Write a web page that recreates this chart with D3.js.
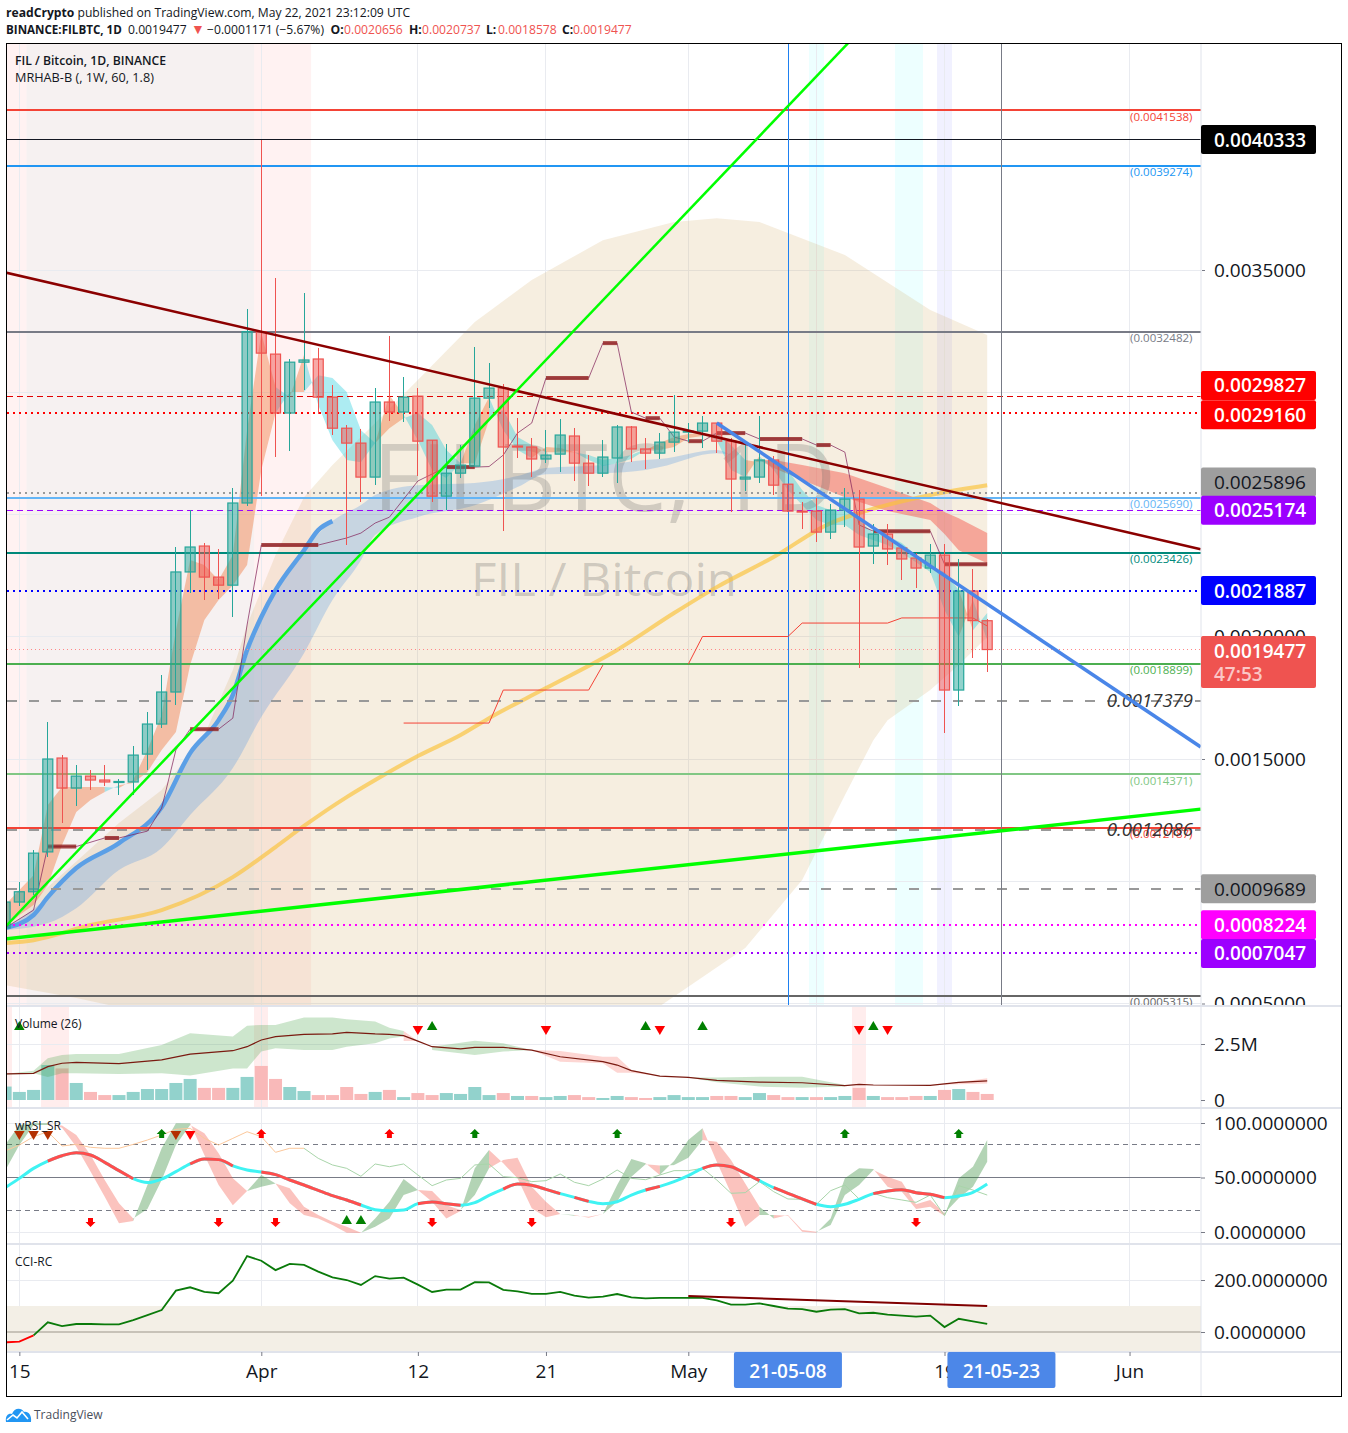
<!DOCTYPE html>
<html><head><meta charset="utf-8">
<script src="https://d3js.org/d3.v7.min.js"></script>
<style>
html,body{margin:0;padding:0;background:#fff;}
svg{display:block;}
text{font-family:"Open Sans","Noto Sans",sans-serif;}
.ax text{font-size:19px;fill:#131722;}
.ax .domain{display:none;}
.ax line{stroke:#787b86;}
</style></head><body><div id="c"></div>
<script>
// All prices are in units of 0.0001 BTC
const firstDay = new Date(Date.UTC(2021,2,14));
const priceOpen=[8.09,9.15,9.57,11.20,15.04,13.81,14.30,14.14,14.06,14.06,15.20,16.43,17.74,22.65,23.71,22.44,22.11,25.47,32.48,31.56,29.15,31.23,31.36,29.80,28.53,27.92,26.53,29.60,29.19,29.84,28.04,25.75,26.69,26.98,29.76,30.17,27.80,27.76,27.27,27.47,28.21,27.10,26.69,27.31,28.58,27.68,27.51,27.96,28.37,28.41,28.74,28.00,26.45,26.53,27.23,26.24,25.14,25.14,24.28,25.18,25.63,23.71,24.20,23.63,23.22,22.81,23.34,17.82,21.87,20.656];
const priceHigh=[9.15,9.97,11.28,16.51,15.16,14.75,14.55,14.75,14.18,15.53,16.92,18.43,23.67,25.18,23.83,23.59,26.08,33.40,40.33,34.67,31.36,34.06,31.81,30.29,28.66,28.49,30.17,32.30,30.62,30.17,28.04,27.88,27.84,31.85,31.19,30.33,28.94,28.13,28.45,28.90,28.53,27.43,28.04,28.66,28.62,28.13,28.33,29.88,28.74,29.03,28.74,28.13,28.00,29.03,27.39,26.24,25.51,25.67,25.43,26.08,26.00,24.61,24.61,23.63,23.42,23.79,23.79,23.18,22.77,20.737];
const priceLow=[8.09,8.99,9.44,10.99,12.38,13.07,13.73,13.89,13.52,13.52,14.55,16.27,17.21,21.79,21.50,21.54,20.81,25.34,25.75,27.35,27.59,30.09,29.11,28.25,23.75,25.51,26.20,28.82,28.78,26.57,25.51,25.18,26.49,26.98,29.35,24.32,27.31,26.53,27.10,26.74,26.37,26.16,26.53,26.29,27.14,26.86,27.27,27.55,27.96,27.72,27.51,25.10,25.96,26.29,25.80,25.10,24.40,23.87,24.00,24.49,18.72,22.97,22.93,22.32,21.99,22.60,16.06,17.17,19.13,18.578];
const priceClose=[9.15,9.57,11.15,15.00,13.81,14.30,14.14,14.06,14.08,15.16,16.43,17.74,22.65,23.67,22.44,22.11,25.47,32.48,31.60,29.15,31.23,31.32,29.80,28.53,27.92,26.53,29.60,29.19,29.80,28.00,25.75,26.69,27.02,29.76,30.17,27.76,27.76,27.27,27.43,28.25,27.10,26.69,27.35,28.58,27.68,27.51,27.96,28.37,28.41,28.74,28.00,26.45,26.53,27.23,26.20,25.14,25.10,24.28,25.18,25.63,23.67,24.20,23.59,23.18,22.81,23.34,17.82,21.87,20.66,19.477];
// MRHAB ribbon (fast over slow = orange, otherwise cyan)
const ribbonFast=[9.03,9.64,10.25,13.12,13.85,13.85,13.85,13.85,13.81,14.14,15.37,16.80,20.27,23.14,22.93,22.32,23.34,28.45,32.42,30.21,29.80,31.52,29.48,28.04,27.23,27.14,27.92,29.88,29.07,28.04,26.82,26.49,27.10,28.66,29.80,28.45,27.64,27.31,27.76,27.72,27.55,27.23,26.98,27.10,27.27,27.64,27.92,28.17,28.29,28.33,28.04,26.82,26.53,27.39,26.82,26.00,25.39,24.77,24.57,24.57,24.16,23.95,23.75,23.42,23.05,22.65,21.09,19.99,21.50,19.86];
const ribbonSlow=[8.09,8.62,9.03,9.84,11.48,12.83,13.32,13.65,13.93,14.02,14.47,15.37,16.10,18.84,20.68,21.50,22.11,22.93,26.82,29.15,30.01,30.01,30.70,30.58,30.01,28.45,27.92,28.53,28.94,29.15,28.66,27.64,27.10,27.10,28.86,29.27,28.17,27.84,27.55,27.55,27.55,27.43,27.23,27.31,27.43,27.68,27.64,27.76,28.13,28.21,28.33,27.84,27.23,27.14,27.23,26.82,26.00,25.39,25.18,25.18,24.77,24.24,24.12,23.83,23.34,22.81,22.65,21.91,20.27,20.97];
const redBandDays=[53,54,56,59,62,65,66,67,69];
const redBandTop=[27.23,27.23,27.02,26.69,26.08,25.47,25.10,24.85,24.24];
const redBandBot=[27.23,26.90,26.41,25.71,25.14,24.77,24.20,23.54,23.01];
const beigeUpDays=[0,2,8,11,14,16,17,19,21,23,26,29,33,37,42,47,50,53,59,65,69];
const beigeUp=[8.09,9.23,12.38,13.73,15.98,18.64,20.48,23.34,25.71,27.02,28.74,30.50,32.87,34.59,36.22,36.96,37.12,36.96,35.61,33.36,32.34];
const beigeLoDays=[0,5,8,14,25,35,46,52,56,59,61,62,65,67,69];
const beigeLo=[5.75,5.22,4.85,3.51,3.51,3.51,4.89,7.27,10.05,13.52,15.77,16.59,17.82,18.84,19.99];
const yellowDays=[0,2,6,11,16,19,21,24,26,29,32,34,38,43,47,50,54,58,60,65,69];
const yellowMA=[7.47,7.59,8.21,8.82,10.17,11.40,12.26,13.44,14.14,15.12,15.98,16.67,17.90,19.46,20.97,22.03,23.26,24.65,25.06,25.80,26.20];
const blueMADays=[0,2,3,5,8,11,13,15,16,17,18,19,21,22,23];
const blueMA=[8.09,8.62,9.35,10.54,11.56,13.03,15.24,16.59,17.62,19.46,20.81,21.91,23.54,24.36,24.73];
const blueBandDays=[0,3,5,8,11,13,16,18,21,23,25,26,29,33,36,38,42,45,46,50,51];
const blueBandUp=[8.09,9.35,10.54,11.56,13.03,15.24,17.62,20.81,23.54,24.73,25.39,25.80,26.20,26.29,26.57,26.90,27.02,27.23,27.27,27.64,27.43];
const blueBandLo=[8.00,8.29,8.90,10.46,11.36,12.71,14.63,16.72,19.33,21.50,23.13,24.16,24.90,25.38,26.12,26.65,26.69,26.82,26.94,27.51,27.43];
const mrDays=[0,2,3,5,7,8,10,11,12,13,15,16,17,18,22,24,25,26,27,29,31,33,34,35,36,37,38,41,42,43,44,45,46,47,48,49,50,52,53,56,57,58,59,60,61,65,66,69];
const mrValues=[8.09,8.82,11.42,11.42,11.77,11.77,12.05,12.99,15.37,16.22,16.22,16.67,20.48,23.75,23.75,24.04,24.24,24.65,24.89,26.37,26.94,26.94,26.96,27.43,28.33,28.74,30.58,30.58,32.01,32.01,29.19,28.94,28.94,28.17,28.00,28.00,28.33,28.33,28.09,28.09,27.84,27.84,27.55,24.57,24.32,24.32,22.97,22.97];
const redStepDays=[28,34,35,41,42,47,48,49,55,56,62,63,68,69];
const redStepValues=[16.47,16.47,17.82,17.82,18.84,null,18.88,20.01,20.01,20.56,20.56,20.77,20.77,20.44];
// levels
const levelValues=[41.538,40.333,39.274,32.482,29.827,29.160,25.896,25.690,25.174,23.426,21.887,19.477,18.899,17.379,14.371,12.086,12.187,9.689,8.224,7.047,5.315];
const levelNotes=["(0.0041538)",null,"(0.0039274)","(0.0032482)",null,null,null,"(0.0025690)",null,"(0.0023426)",null,null,"(0.0018899)",null,"(0.0014371)",null,"(0.0012187)",null,null,null,"(0.0005315)"];
const levelStyle=[["#f44336",2,""],["#131722",1,""],["#2196f3",2,""],["#787b86",2,""],["#e00000",1,"6,4"],["#ff0000",2,"2,4"],["#9a9a9a",2,"2,4"],["#64b5f6",2,""],["#9c00ff",1,"6,4"],["#00897b",2,""],["#0000ff",2,"2,4"],["#f88",1,"1,3"],["#4caf50",2,""],["#999",2,"10,12"],["#81c784",2,""],["#999",2,"10,12"],["#f44336",2,""],["#999",2,"10,12"],["#ff00ff",2,"2,4"],["#9c00ff",2,"2,4"],["#666",2,""]];
const tagPrices=["0.0040333","0.0029827","0.0029160","0.0025896","0.0025174","0.0021887","0.0009689","0.0008224","0.0007047"];
const tagValues=[40.333,29.827,29.160,25.896,25.174,21.887,9.689,8.224,7.047];
const tagShift=[0,-11,2,-10.5,0,0,0,0,0];
const tagFill=["#000","#f00","#f00","#9e9e9e","#9c00ff","#0000ff","#9e9e9e","#ff00ff","#9c00ff"];
const tagInk=["#fff","#fff","#fff","#131722","#fff","#fff","#131722","#fff","#fff"];
const priceTicks=[35,30,25,20,15,10,5];
const xTickDates=[[2021,2,15],[2021,3,1],[2021,3,12],[2021,3,21],[2021,4,1],[2021,4,10],[2021,4,19],[2021,5,1]].map(d=>new Date(Date.UTC(...d)));
const xTickLabels=["15","Apr","12","21","May","10","19","Jun"];
// trend lines: [day, price, day, price]
const trendDark=[0,34.90,84,23.58];
const trendGreenUp=[0,8.13,60,44.75];
const trendGreenLow=[0,7.64,84,12.95];
const trendBlue=[50,28.74,84,15.49];
// background day shading
const cyanBgDays=[57,63,64];
const violetBgDays=[66];
// volume in millions
const volume=[.60,.36,.45,1.56,1.41,.76,.36,.22,.22,.36,.49,.49,.76,.94,.54,.54,.54,1.03,1.52,.94,.58,.40,.22,.22,.58,.27,.36,.45,.13,.31,.22,.31,.27,.58,.22,.31,.18,.18,.13,.18,.22,.13,.09,.18,.13,.09,.13,.22,.13,.13,.18,.18,.13,.31,.22,.13,.13,.13,.13,.18,.54,.18,.13,.13,.18,.18,.45,.49,.36,.27];
const volumeUp=[1,1,1,1,0,1,0,0,1,1,1,1,1,1,0,0,1,1,0,0,1,1,0,0,0,0,1,0,1,0,0,1,1,1,1,0,1,0,1,1,0,0,1,1,0,0,1,1,1,1,0,0,1,1,0,0,1,0,1,1,0,1,0,0,0,1,0,1,0,0];
const volMADays=[0,2,3,4,5,8,11,13,16,17,18,19,21,23,24,26,27,28,29,30,32,33,35,37,39,42,43,44,46,48,50,53,56,59,60,61,65,67,69];
const volMA=[1.16,1.19,1.49,1.64,1.68,1.62,1.79,2.05,2.20,2.38,2.68,2.83,2.93,2.95,3.02,2.95,2.93,2.87,2.63,2.38,2.28,2.35,2.35,2.23,1.93,1.71,1.56,1.31,1.07,1.01,.88,.80,.77,.64,.70,.67,.65,.79,.85];
const volGreenDays=[0,2,3,4,5,8,11,13,16,17,18,19,21,23,24,26,27,28,null,30,33,35,37,null,48,50,53,56,59];
const volGreenUp=[1.16,1.31,1.86,2.01,2.05,2.05,2.46,2.98,2.83,3.32,3.35,3.35,3.68,3.68,3.60,3.50,3.23,3.08,null,2.38,2.65,2.53,2.23,null,1.01,1.00,1.04,1.04,.67];
const volGreenLo=[1.12,1.19,1.03,1.19,1.19,1.16,1.19,1.09,1.41,1.41,2.16,2.31,2.23,2.23,2.38,2.53,2.75,2.83,null,2.23,2.01,2.16,2.23,null,1.01,.79,.60,.55,.60];
const volRedDays=[28,29,30,null,37,39,42,43,44,46,null,65,67,69];
const volRedUp=[3.08,2.63,2.38,null,2.23,2.19,1.93,1.93,1.34,1.07,null,.67,.79,.97];
const volRedLo=[2.63,2.63,2.38,null,2.23,1.71,1.64,1.22,1.22,1.07,null,.67,.70,.74];
const volBgDays=[0,3,4,18,60];
const volTriDown=[29,38,46,60,62];
const volTriUp=[1,30,45,49,61];
// wRSI panel
const rsiLine=[40.7,49.2,58.4,65.1,70.0,72.8,70.6,63.9,56.3,48.9,45.3,48.6,55.4,62.4,67.0,66.4,60.6,56.9,55.0,52.6,47.7,43.1,38.2,33.3,29.4,24.8,20.5,19.6,20.2,26.0,27.5,26.0,24.5,26.9,33.6,39.4,44.0,42.8,39.1,35.2,31.8,28.1,26.0,27.8,33.9,38.5,41.9,46.2,51.7,58.4,61.5,59.9,53.8,47.1,40.7,35.5,30.3,25.4,23.2,25.4,30.0,35.2,37.6,38.8,36.1,34.6,31.5,33.0,36.4,44.0];
const rsiRedRuns=[[3,9],[13,16],[18,25],[29,32],[35,39],[40,41],[45,46],[49,53],[54,57],[61,66]];
const rsiA=[79.8,98.2,99.7,99.7,95.7,78.3,55.4,32.4,8,10.1,43.1,76.8,99.7,99.7,70.6,43.1,24.5,37.6,52.3,44.6,26.3,15.6,12.5,6.4,-.6,-.9,12.5,27.8,48.6,38.5,27.8,12.5,19.3,58.4,75.2,63,49.2,21.7,13.5,16.5,15.6,13.1,16.5,43.1,67,63,52.3,65.1,84.4,95.1,64.5,35.5,4.9,15.6,15.6,15,.3,-.6,12.5,49.2,58.4,57.8,41.6,37,21.1,23.2,15,49.2,59.9,84.4];
const rsiB=[56.3,79.8,98.2,98.2,97.6,89,70.6,47.7,26.3,12.5,21.1,47.7,79.8,98.2,90.5,72.2,49.2,37.6,41.6,44.6,40.1,23.2,15.6,9.5,4.9,-.6,4.9,12.5,33.9,38.5,37.6,24.5,20.2,33.9,58.4,66.1,68.2,41.6,27.8,16.5,15,14.1,16.5,27.8,50.8,62.1,60.9,61.5,68.2,84.4,82.9,66.1,44.6,23.2,12.5,15.6,1.8,.3,6.4,33.9,43.1,56.9,50.8,46.2,25.4,29.4,17.1,30.9,41.6,64.5];
const rsiThin=[74.3,79.8,87.5,92,78.9,80.4,77.7,76.8,76.8,80.4,84.4,89,94.2,95.1,85.9,79.8,85.9,92,87.5,73.1,76.8,76.8,67.6,61.5,58.4,51.1,62.4,59.9,62.4,52.3,42.5,47.7,49.2,61.5,62.4,50.8,49.8,46.2,47.1,53.2,45.6,42.5,48.6,56.9,49.2,48,52.3,56.3,56.3,58.4,47.7,35.5,36.1,46.2,37,30.3,30,25.4,37.9,43.1,30.3,35.5,31.5,29.4,27.2,33.9,15,42.5,38.5,33.9];
const rsiArrowUpGreen=[11,33,43,59,67];
const rsiArrowUpRed=[18,27];
const rsiArrowDownRed=[6,15,19,30,37,51,64];
const rsiTriDown=[1,2,3,12,13];
const rsiTriUp=[24,25];
// CCI panel
const cciLine=[-39.7,-37,-12.8,37.2,23,30.8,30.8,29.5,29.5,46,65,84.6,159,172,154,149,197,292,274,238,262,258,232,210,200,181,215,205,209,182,154,163,163,192,191,162,156,147,147,154,140,132,136,146,133,129,131,131,131,131,122,105,105,110,100,90,88,78,86,88,72,74,67,63,59,63,19,51,41,31];
const cciTrend=[48,138,69,100];

const W=1348,H=1433;
const svg=d3.select("#c").append("svg").attr("width",W).attr("height",H);
const x=d3.scaleUtc().domain([new Date(Date.UTC(2021,3,1)),new Date(Date.UTC(2021,4,1))]).range([261.3,688.3]);
const dayDate=i=>d3.utcDay.offset(firstDay,Math.round(i));
const dx=i=>x(dayDate(i));
const yP=d3.scaleLinear().domain([5,35]).range([1003.5,270]);
const yV=d3.scaleLinear().domain([0,2.5]).range([1100,1044]);
const yR=d3.scaleLinear().domain([0,100]).range([1232,1123]);
const yC=d3.scaleLinear().domain([0,200]).range([1332,1280]);
const L=7,R=1201;
const defs=svg.append("defs");
function clip(id,y0,y1,x0=L,x1=R){defs.append("clipPath").attr("id",id).append("rect").attr("x",x0).attr("y",y0).attr("width",x1-x0).attr("height",y1-y0);}
clip("cM",44,1005);clip("cV",1007,1107);clip("cR",1109,1243);clip("cC",1245,1351);clip("cA",44,1005,1202,1342);

// backgrounds and grid
const gM=svg.append("g").attr("clip-path","url(#cM)");
const gV=svg.append("g").attr("clip-path","url(#cV)");
const gR=svg.append("g").attr("clip-path","url(#cR)");
const gC=svg.append("g").attr("clip-path","url(#cC)");
const dayW=14.233;
function dayBands(g,days,fill,y0,y1){g.append("g").attr("shape-rendering","crispEdges").selectAll("rect").data(days).join("rect").attr("x",d=>dx(d)-dayW/2).attr("width",dayW).attr("y",y0).attr("height",y1-y0).attr("fill",fill);}
gM.append("rect").attr("x",L).attr("y",44).attr("width",dx(21)+dayW/2-L).attr("height",961).attr("fill","rgba(255,0,0,.05)");
gM.append("rect").attr("x",dx(2)-dayW/2).attr("y",44).attr("width",dx(17)-dx(2)+dayW).attr("height",961).attr("fill","rgba(0,220,220,.035)");
dayBands(gM,cyanBgDays,"rgba(0,255,255,.07)",44,1005);
dayBands(gM,violetBgDays,"rgba(60,60,255,.07)",44,1005);
dayBands(gV,volBgDays,"rgba(255,0,0,.07)",1007,1107);
const gridDates=xTickDates;
[[gM,44,1005],[gV,1007,1107],[gR,1109,1243],[gC,1245,1351]].forEach(([g,a,b])=>{
  g.append("g").attr("shape-rendering","crispEdges").selectAll("line").data(gridDates).join("line").attr("x1",d=>x(d)).attr("x2",d=>x(d)).attr("y1",a).attr("y2",b).attr("stroke","#e9ebf0").attr("stroke-width",1);
});
gM.append("g").attr("shape-rendering","crispEdges").selectAll("line").data(priceTicks).join("line").attr("x1",L).attr("x2",R).attr("y1",d=>yP(d)).attr("y2",d=>yP(d)).attr("stroke","#e9ebf0");
[[gV,yV,[2.5]],[gR,yR,[100,0]],[gC,yC,[200]]].forEach(([g,s,t])=>g.append("g").attr("shape-rendering","crispEdges").selectAll("line").data(t).join("line").attr("x1",L).attr("x2",R).attr("y1",d=>s(d)).attr("y2",d=>s(d)).attr("stroke","#e9ebf0"));

// beige envelope
const pairs=(ds,vs)=>ds.map((d,i)=>[d,vs[i]]);
const upPts=pairs(beigeUpDays,beigeUp),loPts=pairs(beigeLoDays,beigeLo);
const lineP=d3.line().x(d=>dx(d[0])).y(d=>yP(d[1]));
gM.append("path").attr("d",lineP(upPts.concat(loPts.slice().reverse()))+"Z").attr("fill","rgba(210,170,100,.2)");

function ribbon(g,days,a,b,yS,cUp,cDn){
  const segs=[];let cur=null;
  for(let k=0;k<days.length-1;k++){
    let s=a[k+1]-b[k+1]; if(s===0) s=a[k]-b[k];
    const up=s>=0;
    if(!cur||cur.up!==up){cur={up,pts:[k]};segs.push(cur);}
    cur.pts.push(k+1);
  }
  const ar=d3.area().x(k=>dx(days[k])).y0(k=>yS(a[k])).y1(k=>yS(b[k]));
  g.append("g").selectAll("path").data(segs).join("path").attr("d",s=>ar(s.pts)).attr("fill",s=>s.up?cUp:cDn);
}
// blue ribbon
gM.append("path").datum(blueBandDays.map((d,i)=>i)).attr("d",d3.area().curve(d3.curveMonotoneX).x(i=>dx(blueBandDays[i])).y0(i=>yP(blueBandLo[i])).y1(i=>yP(blueBandUp[i]))).attr("fill","rgba(50,135,230,.24)");
// red ribbon
gM.append("path").datum(redBandDays.map((d,i)=>i)).attr("d",d3.area().x(i=>dx(redBandDays[i])).y0(i=>yP(redBandBot[i])).y1(i=>yP(redBandTop[i]))).attr("fill","rgba(244,67,54,.42)");
const allDays=d3.range(priceOpen.length);
ribbon(gM,allDays,ribbonFast,ribbonSlow,yP,"rgba(240,105,40,.38)","rgba(0,195,215,.32)");

// watermark
gM.append("text").attr("x",373).attr("y",511).attr("font-size",93).attr("textLength",463).attr("lengthAdjust","spacingAndGlyphs").attr("fill","rgba(90,90,90,.24)").text("FILBTC, 1D");
gM.append("text").attr("x",471).attr("y",596).attr("font-size",45).attr("textLength",266).attr("lengthAdjust","spacingAndGlyphs").attr("fill","rgba(90,90,90,.26)").text("FIL / Bitcoin");

// yellow and blue MAs
const lineSmooth=d3.line().curve(d3.curveMonotoneX).x(d=>dx(d[0])).y(d=>yP(d[1]));
gM.append("path").attr("d",lineSmooth(pairs(yellowDays,yellowMA))).attr("fill","none").attr("stroke","rgba(250,195,60,.68)").attr("stroke-width",4);
gM.append("path").attr("d",lineSmooth(pairs(blueMADays,blueMA))).attr("fill","none").attr("stroke","#5b9fe6").attr("stroke-width",4.5).attr("stroke-linejoin","round");

// horizontal levels
gM.append("g").attr("shape-rendering","crispEdges").selectAll("line").data(levelValues).join("line").attr("x1",L).attr("x2",R).attr("y1",d=>yP(d)).attr("y2",d=>yP(d))
 .attr("stroke",(d,i)=>levelStyle[i][0]).attr("stroke-width",(d,i)=>levelStyle[i][1]).attr("stroke-dasharray",(d,i)=>levelStyle[i][2]);
gM.append("g").selectAll("text").data(levelValues.map((v,i)=>({v,i})).filter(d=>levelNotes[d.i])).join("text")
 .attr("x",1192.5).attr("y",d=>yP(d.v)+10.5).attr("text-anchor","end").attr("font-size",11.5).attr("fill",d=>levelStyle[d.i][0]).text(d=>levelNotes[d.i]);
gM.selectAll(null).data([[17.379,"0.0017379"],[12.086,"0.0012086"]]).join("text").attr("x",1193).attr("y",d=>yP(d[0])+6).attr("text-anchor","end").attr("font-size",18.5).attr("font-style","italic").attr("fill","#333").text(d=>d[1]);

// vertical markers
const markX=d=>Math.round(x(d))+.5;
const may8=new Date(Date.UTC(2021,4,8)),may23=new Date(Date.UTC(2021,4,23));
gM.append("line").attr("x1",markX(may8)).attr("x2",markX(may8)).attr("y1",44).attr("y2",1005).attr("stroke","#1e80f0").attr("stroke-width",1);
gM.append("line").attr("x1",markX(may23)).attr("x2",markX(may23)).attr("y1",44).attr("y2",1005).attr("stroke","#787b86").attr("stroke-width",1);

// step lines
const mrLine=d3.line().x(k=>dx(mrDays[k])).y(k=>yP(mrValues[k]));
gM.append("path").attr("d",mrLine(d3.range(mrDays.length))).attr("fill","none").attr("stroke","rgba(130,35,90,.72)").attr("stroke-width",1);
const thick=d3.range(mrDays.length-1).filter(k=>mrValues[k]===mrValues[k+1]);
gM.append("g").selectAll("line").data(thick).join("line").attr("x1",k=>dx(mrDays[k])).attr("x2",k=>dx(mrDays[k+1])).attr("y1",k=>yP(mrValues[k])).attr("y2",k=>yP(mrValues[k])).attr("stroke","rgba(145,30,30,.8)").attr("stroke-width",4);
gM.append("path").attr("d",d3.line().defined(k=>redStepValues[k]!==null).x(k=>dx(redStepDays[k])).y(k=>yP(redStepValues[k]))(d3.range(redStepDays.length))).attr("fill","none").attr("stroke","#f44336").attr("stroke-width",1);

// candles
const cg=gM.append("g").selectAll("g").data(allDays).join("g");
const cUp=i=>priceClose[i]>=priceOpen[i];
cg.append("line").attr("shape-rendering","crispEdges").attr("x1",dx).attr("x2",dx).attr("y1",i=>yP(priceHigh[i])).attr("y2",i=>yP(priceLow[i])).attr("stroke",i=>cUp(i)?"#26a69a":"#ef5350");
cg.append("rect").attr("x",i=>dx(i)-5).attr("width",10)
 .attr("y",i=>yP(Math.max(priceOpen[i],priceClose[i])))
 .attr("height",i=>Math.max(1,Math.abs(yP(priceOpen[i])-yP(priceClose[i]))))
 .attr("fill",i=>cUp(i)?"rgba(38,166,154,.5)":"rgba(239,83,80,.5)").attr("stroke",i=>cUp(i)?"#26a69a":"#ef5350").attr("stroke-width",1.2);

// trend lines
function trend(t,c,w){gM.append("line").attr("x1",dx(t[0])).attr("y1",yP(t[1])).attr("x2",dx(t[2])).attr("y2",yP(t[3])).attr("stroke",c).attr("stroke-width",w);}
trend(trendDark,"#8b0000",2.5);
trend(trendGreenUp,"#00ff00",2.5);
trend(trendGreenLow,"#00ff00",3.5);
trend(trendBlue,"#4a86e8",3.5);

// volume
gV.append("g").selectAll("rect").data(allDays).join("rect").attr("x",i=>dx(i)-6.5).attr("width",13).attr("y",i=>yV(volume[i])).attr("height",i=>yV(0)-yV(volume[i])).attr("fill",i=>volumeUp[i]?"#92d2cc":"#f9b9b9");
function bandNull(g,ds,u,l,col){
  const a=d3.area().defined(k=>ds[k]!==null).x(k=>dx(ds[k])).y0(k=>yV(l[k])).y1(k=>yV(u[k]));
  g.append("path").attr("d",a(d3.range(ds.length))).attr("fill",col);
}
bandNull(gV,volGreenDays,volGreenUp,volGreenLo,"rgba(76,165,76,.28)");
bandNull(gV,volRedDays,volRedUp,volRedLo,"rgba(244,67,54,.22)");
gV.append("path").attr("d",d3.line().x(k=>dx(volMADays[k])).y(k=>yV(volMA[k]))(d3.range(volMADays.length))).attr("fill","none").attr("stroke","#7a1a10").attr("stroke-width",1.2);
const triUp=d3.symbol().type(d3.symbolTriangle).size(48)();
function marks(g,days,yy,col,rot){g.append("g").selectAll("path").data(days).join("path").attr("d",triUp).attr("transform",d=>`translate(${dx(d)},${yy}) rotate(${rot})`).attr("fill",col);}
marks(gV,volTriDown,1029,"#f00",180);
marks(gV,volTriUp,1027,"#008000",0);

// wRSI
gR.append("g").attr("shape-rendering","crispEdges").selectAll("line").data([80,50,20]).join("line").attr("x1",L).attr("x2",R).attr("y1",d=>yR(d)).attr("y2",d=>yR(d)).attr("stroke","#787b86").attr("stroke-dasharray",d=>d===50?"":"5,4");
ribbon(gR,allDays,rsiA,rsiB,yR,"rgba(56,142,60,.38)","rgba(244,67,54,.32)");
const thinL=d3.line().x(k=>dx(k)).y(k=>yR(rsiThin[k]));
gR.append("path").attr("d",thinL(d3.range(0,22))).attr("fill","none").attr("stroke","#fcc89b");
gR.append("path").attr("d",thinL(d3.range(21,70))).attr("fill","none").attr("stroke","#a9d5aa");
const rsiL=d3.line().x(k=>dx(k)).y(k=>yR(rsiLine[k])).curve(d3.curveMonotoneX);
gR.append("path").attr("d",rsiL(allDays)).attr("fill","none").attr("stroke","#3ff3f3").attr("stroke-width",3);
gR.append("g").selectAll("path").data(rsiRedRuns).join("path").attr("d",r=>rsiL(d3.range(r[0],r[1]+1))).attr("fill","none").attr("stroke","#ff4d4d").attr("stroke-width",3);
const arrowPath="M0,-5L5,0L2.5,0L2.5,4L-2.5,4L-2.5,0L-5,0Z";
function arrows(days,yy,col,rot){gR.append("g").selectAll("path").data(days).join("path").attr("d",arrowPath).attr("transform",d=>`translate(${dx(d)},${yy}) rotate(${rot})`).attr("fill",col);}
arrows(rsiArrowUpGreen,1134,"#008000",0);
arrows(rsiArrowUpRed,1134,"#f00",0);
arrows(rsiArrowDownRed,1222,"#f00",180);
gR.append("g").selectAll("path").data(rsiTriDown).join("path").attr("d",triUp).attr("transform",d=>`translate(${dx(d)},1134) rotate(180)`).attr("fill",d=>d===13?"#f00":"#b33000");
gR.append("g").selectAll("path").data(rsiTriUp).join("path").attr("d",triUp).attr("transform",d=>`translate(${dx(d)},1221)`).attr("fill","#008000");

// CCI
gC.append("rect").attr("x",L).attr("width",R-L).attr("y",yC(100)).attr("height",1352-yC(100)).attr("fill","#f3efe6");
gC.append("line").attr("x1",L).attr("x2",R).attr("y1",yC(0)).attr("y2",yC(0)).attr("stroke","#b8b3a8").attr("stroke-width",1.5);
const cciL=d3.line().x(k=>dx(k)).y(k=>yC(cciLine[k]));
gC.append("path").attr("d",cciL(d3.range(2,70))).attr("fill","none").attr("stroke","#0a7a0a").attr("stroke-width",1.8);
gC.append("path").attr("d",cciL(d3.range(0,3))).attr("fill","none").attr("stroke","#f00").attr("stroke-width",1.8);
gC.append("line").attr("x1",dx(cciTrend[0])).attr("y1",yC(cciTrend[1])).attr("x2",dx(cciTrend[2])).attr("y2",yC(cciTrend[3])).attr("stroke","#800000").attr("stroke-width",2);

// panel separators
svg.append("g").selectAll("line").data([1006,1108,1244,1352]).join("line").attr("x1",L).attr("x2",1341).attr("y1",d=>d).attr("y2",d=>d).attr("stroke","#e0e3eb").attr("stroke-width",2);
svg.append("line").attr("x1",R).attr("x2",R).attr("y1",44).attr("y2",1396).attr("stroke","#e0e3eb");

// axes
const axM=svg.append("g").attr("class","ax").attr("clip-path","url(#cA)");
axM.append("g").attr("transform",`translate(${R},0)`).call(d3.axisRight(yP).tickValues(priceTicks).tickSize(4).tickPadding(9).tickFormat(d=>(d/1e4).toFixed(7)));
svg.append("g").attr("class","ax").attr("transform",`translate(${R},0)`).call(d3.axisRight(yV).tickValues([2.5,0]).tickSize(4).tickPadding(9).tickFormat(d=>d?"2.5M":"0"));
svg.append("g").attr("class","ax").attr("transform",`translate(${R},0)`).call(d3.axisRight(yR).tickValues([100,50,0]).tickSize(4).tickPadding(9).tickFormat(d=>d.toFixed(7)));
svg.append("g").attr("class","ax").attr("transform",`translate(${R},0)`).call(d3.axisRight(yC).tickValues([200,0]).tickSize(4).tickPadding(9).tickFormat(d=>d.toFixed(7)));
svg.append("g").attr("class","ax").attr("transform",`translate(0,1352)`).call(d3.axisBottom(x).tickValues(xTickDates).tickSize(4).tickPadding(9).tickFormat((d,i)=>xTickLabels[i]));
svg.selectAll(".ax text").style("font-size","19px");

// price tags
const tg=svg.append("g").selectAll("g").data(tagValues).join("g").attr("transform",(d,i)=>`translate(${R},${yP(d)+tagShift[i]})`);
tg.append("rect").attr("y",-14.5).attr("width",115).attr("height",29).attr("rx",2).attr("fill",(d,i)=>tagFill[i]);
tg.append("text").attr("x",13).attr("y",7).attr("font-size",19).attr("fill",(d,i)=>tagInk[i]).attr("font-weight",(d,i)=>tagInk[i]==="#fff"?600:400).text((d,i)=>tagPrices[i]);
const lastTag=svg.append("g").attr("transform",`translate(${R},636)`);
lastTag.append("rect").attr("width",115).attr("height",52).attr("rx",2).attr("fill","#ef5350");
lastTag.append("text").attr("x",13).attr("y",22).attr("font-size",19).attr("font-weight",600).attr("fill","#fff").text("0.0019477");
lastTag.append("text").attr("x",13).attr("y",45).attr("font-size",19).attr("font-weight",600).attr("fill","#fbc7c6").text("47:53");

// time tags
const timeTags=[[may8,"21-05-08"],[may23,"21-05-23"]];
const tt=svg.append("g").selectAll("g").data(timeTags).join("g").attr("transform",d=>`translate(${x(d[0])},1352)`);
tt.append("rect").attr("x",-54).attr("width",108).attr("height",36).attr("rx",2).attr("fill","#4c87e8");
tt.append("text").attr("text-anchor","middle").attr("y",26).attr("font-size",19).attr("font-weight",600).attr("fill","#fff").text(d=>d[1]);

// frame
svg.append("rect").attr("x",6.5).attr("y",43.5).attr("width",1335).attr("height",1353).attr("fill","none").attr("stroke","#000");

// legends
const ink="#131722";
svg.append("text").attr("x",15).attr("y",65).attr("font-size",12.2).attr("font-weight",600).attr("fill",ink).text("FIL / Bitcoin, 1D, BINANCE");
svg.append("text").attr("x",15).attr("y",82).attr("font-size",12.7).attr("fill",ink).text("MRHAB-B (, 1W, 60, 1.8)");
svg.append("text").attr("x",15).attr("y",1028).attr("font-size",12).attr("fill",ink).text("Volume (26)");
svg.append("text").attr("x",15).attr("y",1130).attr("font-size",12).attr("fill",ink).text("wRSI_SR");
svg.append("text").attr("x",15).attr("y",1266).attr("font-size",12).attr("fill",ink).text("CCI-RC");

// header
const h1=svg.append("text").attr("x",6).attr("y",17).attr("font-size",12.15).attr("fill",ink);
h1.append("tspan").attr("font-weight",700).text("readCrypto");
h1.append("tspan").text(" published on TradingView.com, May 22, 2021 23:12:09 UTC");
const h2=svg.append("text").attr("y",34).attr("font-size",12.15).attr("fill",ink);
const red="#ef5350";
[["BINANCE:FILBTC, 1D",ink,700,6,11.6],["0.0019477",ink,400,128,12.15],["▼",red,400,191,14],["−0.0001171 (−5.67%)",ink,400,207,12.15],["O:",ink,700,330.5,12.15],["0.0020656",red,400,344,12.15],["H:",ink,700,409,12.15],["0.0020737",red,400,422,12.15],["L:",ink,700,486,12.15],["0.0018578",red,400,498,12.15],["C:",ink,700,562,12.15],["0.0019477",red,400,573,12.15]].forEach(s=>{
  h2.append("tspan").attr("x",s[3]).attr("fill",s[1]).attr("font-weight",s[2]).attr("font-size",s[4]).text(s[0]);
});

// footer logo
const logo=svg.append("g").attr("transform","translate(6,1407)");
logo.append("path").attr("d","M0,15C-1,8 3,6 6,7C8,1 15,0 18,5C22,4 26,8 25,15Z").attr("fill","#2196f3");
logo.append("path").attr("d","M1,13L7,8L11,11L16,5L22,12").attr("fill","none").attr("stroke","#fff").attr("stroke-width",1.6);
svg.append("text").attr("x",34).attr("y",1419).attr("font-size",12).attr("fill","#4a4f5c").text("TradingView");
</script></body></html>
